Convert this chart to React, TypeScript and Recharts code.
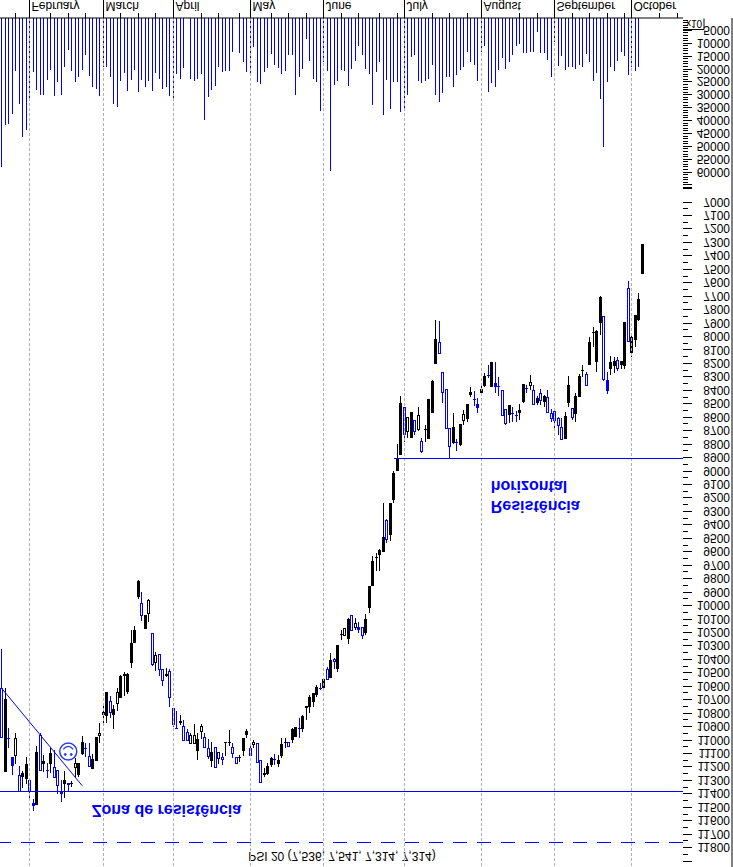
import { Bar, ComposedChart, ReferenceDot, ReferenceLine, XAxis, YAxis } from 'recharts';

const BLUE = '#0000ff';
const GRID = '#b0b0b0';
const FONT = '"Liberation Sans", Arial, sans-serif';

const TITLE = 'PSI 20 (7,536, 7,541, 7,314, 7,314)';

const monthNames = ['February', 'March', 'April', 'May', 'June', 'July', 'August', 'September', 'October'];
const monthDays = [8, 29, 49, 71, 92, 115, 137, 158, 180];
const weekDays = [4, 14, 19, 24, 34, 39, 44, 57, 62, 68, 77, 82, 87, 97, 102, 108, 113, 123, 128, 133, 148, 153, 163, 168, 173, 178, 188, 193];

const priceLabels = [
  7000, 7100, 7200, 7300, 7400, 7500, 7600, 7700, 7800, 7900, 8000, 8100, 8200, 8300, 8400, 8500, 8600, 8700, 8800, 8900,
  9000, 9100, 9200, 9300, 9400, 9500, 9600, 9700, 9800, 9900, 10000, 10100, 10200, 10300, 10400, 10500, 10600, 10700,
  10800, 10900, 11000, 11100, 11200, 11300, 11400, 11500, 11600, 11700, 11800,
];
const volumeLabels = [5000, 10000, 15000, 20000, 25000, 30000, 35000, 40000, 45000, 50000, 55000, 60000];

const volumes = [
  58000, 41700, 41300, 37400, 20600, 33200, 46200, 43600, 31900, 21000,
  28000, 29900, 29700, 24100, 20300, 30100, 24900, 29700, 19100, 12500,
  20600, 24900, 23000, 20300, 14400, 22600, 26700, 27700, 30300, 19100,
  19100, 23000, 33500, 34600, 24500, 21500, 28400, 23900, 20300, 28800,
  23900, 26800, 24300, 28400, 21500, 23500, 27500, 26800, 30100, 31600,
  21900, 23500, 19400, 0, 23500, 24500, 23500, 21900, 39600, 30700,
  28000, 26200, 19000, 21000, 20600, 20400, 13300, 0, 13500, 17200,
  21000, 21500, 11400, 24900, 25800, 21000, 19400, 13800, 18400, 19400,
  21900, 20600, 14200, 14400, 29700, 23000, 19600, 8000, 16500, 23500,
  24900, 35900, 17000, 20600, 59300, 26100, 24500, 20000, 20400, 26200,
  19600, 16500, 10700, 14200, 19600, 21900, 33800, 21000, 17200, 37700,
  23900, 35500, 24900, 24900, 36500, 35500, 29700, 15200, 14200, 24500,
  25400, 24500, 23500, 18400, 29900, 32600, 29300, 23000, 23000, 26800,
  22300, 20000, 19100, 13200, 17000, 18400, 24500, 13200, 11000, 28800,
  25200, 26800, 20000, 15700, 19600, 17200, 14400, 10700, 9900, 13500,
  13500, 13300, 13300, 5400, 13500, 13500, 16400, 23000, 9400, 18700,
  14800, 20000, 19000, 19100, 19700, 18100, 19000, 13800, 17000, 24500,
  21500, 31600, 50100, 24900, 19100, 20600, 16500, 13200, 14800, 22300,
  19100, 20600, 19000,
];

const lows = [
  10320, 10612, 10910, 11120, 10947, 11190, 11224, 11120, 11294, 11438,
  11041, 10947, 11108, 11165, 11058, 11071, 11219, 11294, 11227, 11319,
  11299, 11133, 11165, 10967, 11021, 11021, 11100, 10971, 10872, 10743,
  10636, 10669, 10736, 10612, 10513, 10488, 10500, 10178, 10148, 9806,
  9898, 10067, 9950, 10203, 10339, 10359, 10470, 10463, 10470, 10760,
  10780, 10810, 10847, 10917, 10946, 10877, 10946, 10877, 10946, 10988,
  11013, 11050, 11087, 11090, 11008, 10921, 11016, 11120, 11107, 10983,
  10917, 11026, 10996, 11016, 11149, 11206, 11164, 11120, 11100, 11107,
  10983, 10983, 11008, 10909, 10897, 10835, 10810, 10748, 10661, 10644,
  10587, 10575, 10538, 10456, 10352, 10389, 10290, 10178, 10166, 10092,
  10067, 10092, 10117, 10159, 10059, 9849, 9628, 9604, 9579, 9232,
  9356, 9237, 8996, 8796, 8438, 8523, 8597, 8560, 8624, 8523,
  8753, 8654, 8461, 8319, 7873, 7881, 8262, 8389, 8679, 8567,
  8760, 8649, 8542, 8500, 8374, 8401, 8456, 8349, 8265, 8208,
  8183, 8188, 8295, 8401, 8537, 8505, 8518, 8547, 8498, 8349,
  8357, 8282, 8357, 8438, 8389, 8431, 8394, 8535, 8530, 8592,
  8604, 8555, 8287, 8530, 8418, 8275, 8208, 8257, 8002, 7928,
  7947, 7695, 7848, 8262, 8138, 8146, 8146, 8178, 7890, 7581,
  7985, 7836, 7670, 7308,
];

const bodyLows = [
  10612, 10694, 10979, 11120, 10984, 11257, 11244, 11177, 11294, 11462,
  11083, 10959, 11153, 11217, 11096, 11200, 11219, 11380, 11294, 11319,
  11316, 11170, 11165, 11014, 11060, 11115, 11140, 10971, 10946, 10790,
  10641, 10706, 10765, 10641, 10520, 10505, 10505, 10272, 10178, 9811,
  9980, 10067, 9962, 10203, 10364, 10359, 10470, 10505, 10483, 10760,
  10904, 10855, 10892, 10941, 10964, 10964, 10988, 10892, 10976, 11058,
  11083, 11050, 11087, 11125, 11008, 11011, 11050, 11125, 11122, 10983,
  10926, 11058, 11011, 11021, 11149, 11244, 11189, 11132, 11135, 11144,
  11028, 11008, 11016, 10917, 10897, 10912, 10815, 10748, 10674, 10644,
  10604, 10610, 10543, 10471, 10401, 10394, 10290, 10211, 10166, 10099,
  10072, 10129, 10159, 10159, 10097, 9849, 9663, 9636, 9584, 9485,
  9361, 9237, 9009, 8902, 8493, 8523, 8597, 8560, 8624, 8582,
  8778, 8689, 8461, 8324, 8017, 8039, 8262, 8389, 8679, 8671,
  8783, 8649, 8575, 8500, 8409, 8461, 8498, 8386, 8290, 8285,
  8188, 8344, 8366, 8401, 8537, 8505, 8565, 8585, 8542, 8349,
  8379, 8339, 8394, 8456, 8418, 8436, 8448, 8567, 8555, 8609,
  8671, 8587, 8356, 8530, 8436, 8289, 8245, 8277, 8037, 7965,
  7952, 7700, 7848, 8319, 8188, 8178, 8175, 8178, 7890, 7640,
  7997, 7836, 7717, 7308,
];

const bodyHighs = [
  10979, 11232, 10987, 11187, 11108, 11376, 11269, 11286, 11368, 11487,
  11480, 11224, 11172, 11224, 11172, 11274, 11331, 11398, 11323, 11328,
  11321, 11202, 11257, 11100, 11065, 11190, 11214, 11149, 10964, 10810,
  10815, 10793, 10810, 10723, 10681, 10520, 10636, 10421, 10272, 9930,
  10071, 10171, 10054, 10438, 10421, 10470, 10555, 10520, 10681, 10879,
  10914, 10867, 11001, 11001, 11021, 11021, 11075, 10931, 11050, 11120,
  11149, 11199, 11132, 11140, 11016, 11016, 11095, 11169, 11127, 11075,
  10959, 11110, 11026, 11162, 11310, 11256, 11249, 11182, 11142, 11174,
  11115, 11021, 11045, 10996, 10971, 10917, 10914, 10755, 10748, 10716,
  10661, 10617, 10612, 10545, 10533, 10411, 10468, 10216, 10216, 10248,
  10183, 10159, 10178, 10216, 10198, 10017, 9849, 9643, 9621, 9596,
  9504, 9472, 9212, 8994, 8877, 8728, 8703, 8748, 8703, 8691,
  8852, 8694, 8760, 8567, 8200, 8121, 8411, 8679, 8815, 8790,
  8790, 8803, 8622, 8609, 8431, 8466, 8525, 8414, 8364, 8292,
  8374, 8369, 8371, 8580, 8646, 8580, 8570, 8590, 8562, 8485,
  8386, 8359, 8500, 8488, 8473, 8485, 8560, 8609, 8622, 8661,
  8758, 8758, 8488, 8597, 8572, 8443, 8252, 8361, 8205, 7970,
  8183, 7893, 8319, 8398, 8240, 8215, 8237, 8208, 8215, 8034,
  8116, 8022, 7873, 7534,
];

const highs = [
  10979, 11232, 11058, 11257, 11177, 11376, 11356, 11323, 11430, 11522,
  11480, 11224, 11232, 11281, 11244, 11274, 11398, 11455, 11425, 11380,
  11343, 11269, 11269, 11108, 11120, 11200, 11214, 11149, 11021, 10872,
  10872, 10835, 10914, 10778, 10686, 10669, 10654, 10458, 10277, 9950,
  10109, 10171, 10116, 10443, 10480, 10520, 10592, 10530, 10748, 10897,
  10917, 10884, 11001, 11001, 11021, 11021, 11144, 10988, 11058, 11140,
  11194, 11199, 11177, 11182, 11112, 11038, 11132, 11169, 11157, 11112,
  10978, 11110, 11058, 11164, 11310, 11268, 11256, 11199, 11182, 11194,
  11127, 11058, 11045, 11016, 10971, 10978, 10934, 10847, 10798, 10753,
  10679, 10625, 10625, 10545, 10533, 10468, 10488, 10253, 10216, 10283,
  10183, 10178, 10203, 10245, 10216, 10050, 9849, 9737, 9737, 9596,
  9534, 9514, 9232, 8994, 8877, 8778, 8748, 8748, 8728, 8696,
  8865, 8778, 8760, 8567, 8200, 8121, 8488, 8679, 8902, 8795,
  8845, 8808, 8654, 8629, 8448, 8513, 8562, 8418, 8374, 8307,
  8374, 8414, 8438, 8580, 8654, 8642, 8629, 8629, 8617, 8488,
  8418, 8394, 8505, 8505, 8505, 8518, 8567, 8629, 8691, 8728,
  8760, 8760, 8517, 8616, 8629, 8443, 8294, 8361, 8205, 8071,
  8257, 7985, 8324, 8423, 8282, 8265, 8250, 8240, 8240, 8034,
  8151, 8076, 7878, 7534,
];

// f = solid black, h = hollow black, b = hollow blue, B = solid blue
const kinds = [
  'b', 'f', 'B', 'B', 'h', 'b', 'f', 'f', 'b', 'B',
  'f', 'b', 'f', 'B', 'f', 'b', 'b', 'B', 'f', 'B',
  'f', 'h', 'f', 'f', 'B', 'b', 'f', 'f', 'h', 'f',
  'f', 'b', 'f', 'h', 'f', 'f', 'f', 'f', 'f', 'f',
  'b', 'f', 'h', 'b', 'h', 'b', 'b', 'f', 'b', 'b',
  'B', 'f', 'b', 'b', 'h', 'h', 'f', 'h', 'b', 'b',
  'f', 'b', 'h', 'b', 'f', 'f', 'b', 'b', 'f', 'f',
  'f', 'b', 'h', 'b', 'b', 'h', 'f', 'f', 'B', 'f',
  'f', 'f', 'b', 'f', 'f', 'B', 'f', 'h', 'f', 'f',
  'f', 'B', 'f', 'b', 'f', 'b', 'f', 'f', 'h', 'f',
  'b', 'h', 'B', 'b', 'f', 'f', 'f', 'f', 'f', 'f',
  'b', 'f', 'f', 'f', 'f', 'b', 'h', 'f', 'b', 'h',
  'b', 'f', 'f', 'f', 'f', 'b', 'b', 'b', 'b', 'f',
  'B', 'f', 'h', 'f', 'f', 'B', 'B', 'f', 'f', 'B',
  'f', 'B', 'B', 'b', 'b', 'f', 'B', 'B', 'f', 'f',
  'B', 'h', 'b', 'f', 'b', 'f', 'b', 'b', 'b', 'b',
  'b', 'f', 'f', 'b', 'f', 'f', 'f', 'b', 'f', 'f',
  'f', 'f', 'b', 'B', 'f', 'f', 'b', 'f', 'f', 'b',
  'f', 'f', 'f', 'f',
];

const TOTAL_DAYS = 195;
const chartData = Array.from({ length: TOTAL_DAYS }, (_, i) => ({
  day: i,
  volume: i < volumes.length ? volumes[i] : null,
  range: i < lows.length ? [lows[i], highs[i]] : null,
  low: lows[i],
  bodyLow: bodyLows[i],
  bodyHigh: bodyHighs[i],
  high: highs[i],
  kind: kinds[i],
}));

const minorPriceTicks = [6900, ...priceLabels.map((v) => v + 50), 11900];
const minorVolumeTicks = Array.from({ length: 66 }, (_, i) => (i + 1) * 1000);

function VolumeStick(props: any) {
  const { x, y, width, height } = props;
  if (!height) return null;
  return <rect x={Math.floor(x + width / 2)} y={y} width={1} height={height} fill={BLUE} shapeRendering="crispEdges" />;
}

function Candle(props: any) {
  const { x, y, width, height, payload } = props;
  if (!payload || payload.range == null) return null;
  const { low, high, bodyLow, bodyHigh, kind } = payload;
  const cx = Math.floor(x + width / 2);
  const perUnit = height / (high - low);
  const top = y + (high - bodyHigh) * perUnit;
  const bottom = y + (high - bodyLow) * perUnit;
  const color = kind === 'b' || kind === 'B' ? BLUE : '#000000';
  const hollow = kind === 'b' || kind === 'h';
  return (
    <g shapeRendering="crispEdges">
      <rect x={cx} y={y} width={1} height={Math.max(height, 1)} fill={color} />
      {hollow ? (
        <rect x={cx - 0.5} y={top} width={2} height={Math.max(bottom - top, 1)} fill="#ffffff" stroke={color} strokeWidth={1} />
      ) : (
        <rect x={cx - 1} y={top} width={3} height={Math.max(bottom - top, 1)} fill={color} />
      )}
    </g>
  );
}

function DateTick(props: any) {
  const { x, y, payload } = props;
  const px = Math.floor(x) + 0.5;
  const monthIndex = monthDays.indexOf(payload.value);
  if (monthIndex < 0) return <line x1={px} x2={px} y1={y} y2={y + 5} stroke="#000" />;
  return (
    <g>
      <line x1={px} x2={px} y1={y} y2={y + 18} stroke="#000" />
      <text x={px + 2} y={y + 16} fontSize={12} fontFamily={FONT} fill="#000">
        {monthNames[monthIndex]}
      </text>
    </g>
  );
}

const AXIS_X = 683;

function PriceTick(props: any) {
  const { y, payload } = props;
  const major = payload.value % 100 === 0;
  const labelled = priceLabels.includes(payload.value);
  const py = Math.round(y) + 0.5;
  return (
    <g>
      <line x1={AXIS_X} x2={AXIS_X + (major ? 9 : 5)} y1={py} y2={py} stroke="#000" />
      {labelled && (
        <text x={730} y={y + 5} textAnchor="end" fontSize={12} fontFamily={FONT} fill="#000">
          {payload.value}
        </text>
      )}
    </g>
  );
}

function VolumeTick(props: any) {
  const { y, payload } = props;
  const major = payload.value % 5000 === 0 || payload.value === 66000;
  const labelled = volumeLabels.includes(payload.value);
  const py = Math.round(y) + 0.5;
  return (
    <g>
      <line x1={AXIS_X} x2={AXIS_X + (major ? 9 : 5)} y1={py} y2={py} stroke="#000" />
      {labelled && (
        <text x={730} y={y + 5} textAnchor="end" fontSize={12} fontFamily={FONT} fill="#000">
          {payload.value}
        </text>
      )}
      {payload.value === 5000 && (
        <g>
          <path d={`M${AXIS_X} ${py + 1}H${AXIS_X + 21}V${py + 12}`} fill="none" stroke="#000" />
          <text x={AXIS_X + 3} y={y + 11} fontSize={10} fontFamily={FONT} fill="#000">
            x10
          </text>
        </g>
      )}
    </g>
  );
}

function Note({ cx, cy, text }: any) {
  return (
    <text x={cx - 1} y={cy} fontSize={16} fontWeight="bold" fontFamily={FONT} fill={BLUE}>
      {text}
    </text>
  );
}

function Smiley({ cx, cy }: any) {
  return (
    <g fill="none" stroke="#2a3cf0">
      <circle cx={cx} cy={cy} r={8.5} strokeWidth={1.5} />
      <circle cx={cx - 3} cy={cy - 3} r={1} fill="#2a3cf0" />
      <circle cx={cx + 3} cy={cy - 3} r={1} fill="#2a3cf0" />
      <path d={`M${cx - 5} ${cy + 2}Q${cx} ${cy + 8} ${cx + 5} ${cy + 2}`} strokeWidth={1.2} />
    </g>
  );
}

function ToAxisLine({ x1, y1, y2 }: any) {
  return <line x1={x1} x2={AXIS_X} y1={y1} y2={y2} stroke={BLUE} shapeRendering="crispEdges" />;
}

export default function App() {
  return (
    <div style={{ position: 'absolute', left: 0, top: 0, width: 733, height: 867, background: '#fff', transform: 'scaleY(-1)' }}>
      <ComposedChart width={733} height={867} data={chartData} margin={{ top: 0, right: 0, bottom: 0, left: 0 }} barGap={-3}>
        <XAxis
          dataKey="day"
          ticks={[...monthDays, ...weekDays]}
          interval={0}
          height={18}
          padding={{ left: 0, right: 0.5 }}
          tickLine={false}
          tickSize={0}
          tickMargin={0}
          tick={<DateTick />}
          stroke="#000"
        />
        <YAxis
          yAxisId="volume"
          orientation="right"
          width={1}
          domain={[0, 329500]}
          allowDataOverflow
          ticks={minorVolumeTicks}
          interval={0}
          tickLine={false}
          tickSize={0}
          tickMargin={0}
          tick={<VolumeTick />}
          stroke="#000"
        />
        <YAxis
          yAxisId="price"
          orientation="right"
          width={49}
          domain={[5628, 11940]}
          allowDataOverflow
          ticks={[...priceLabels, ...minorPriceTicks]}
          interval={0}
          tickLine={false}
          tickSize={0}
          tickMargin={0}
          axisLine={false}
          tick={<PriceTick />}
        />
        {monthDays.map((d) => (
          <ReferenceLine key={d} yAxisId="price" x={d} stroke={GRID} strokeDasharray="3 2" shapeRendering="crispEdges" />
        ))}
        <ReferenceLine yAxisId="price" y={11378} stroke={BLUE} shapeRendering="crispEdges" />
        <ReferenceLine yAxisId="price" y={11757} stroke={BLUE} strokeDasharray="14 10" shapeRendering="crispEdges" />
        <ReferenceLine
          yAxisId="price"
          segment={[
            { x: 112, y: 8902 },
            { x: 194, y: 8902 },
          ]}
          shape={<ToAxisLine />}
        />
        <ReferenceLine
          yAxisId="price"
          segment={[
            { x: 0, y: 10612 },
            { x: 23, y: 11336 },
          ]}
          stroke={BLUE}
        />
        <Bar yAxisId="volume" dataKey="volume" barSize={3} shape={<VolumeStick />} isAnimationActive={false} />
        <Bar yAxisId="price" dataKey="range" barSize={3} shape={<Candle />} isAnimationActive={false} />
        <ReferenceDot yAxisId="price" x={19} y={11081} shape={<Smiley />} />
        <ReferenceDot yAxisId="price" x={26} y={11480} shape={<Note text="Zona de resistência" />} />
        <ReferenceDot yAxisId="price" x={140} y={9217} shape={<Note text="Resistência" />} />
        <ReferenceDot yAxisId="price" x={140} y={9068} shape={<Note text="horizontal" />} />
        <text x={342} y={15} textAnchor="middle" fontSize={12} fontFamily={FONT} fill="#000">
          {TITLE}
        </text>
      </ComposedChart>
    </div>
  );
}
